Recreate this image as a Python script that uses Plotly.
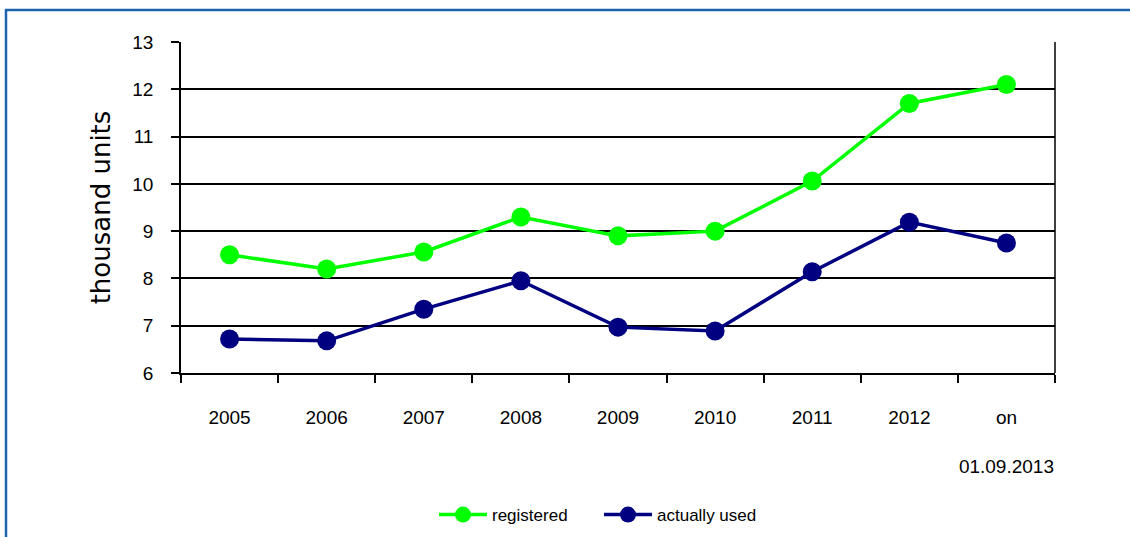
import plotly.graph_objects as go

# Periods on the horizontal axis
periods = ["2005", "2006", "2007", "2008", "2009", "2010", "2011", "2012", "on<br><br>01.09.2013"]

# Number of units, thousands
registered = [8.5, 8.2, 8.56, 9.3, 8.9, 9.0, 10.06, 11.7, 12.1]
actually_used = [6.72, 6.68, 7.35, 7.95, 6.97, 6.89, 8.14, 9.19, 8.75]

y_ticks = [6, 7, 8, 9, 10, 11, 12, 13]

tick_font = dict(family="Liberation Sans, Arial, sans-serif", size=19, color="#000000")

fig = go.Figure()
fig.add_trace(go.Scatter(
    x=periods, y=registered, name="registered", mode="lines+markers",
    line=dict(color="#00FF00", width=3.5),
    marker=dict(color="#00FF00", size=19, symbol="circle"),
))
fig.add_trace(go.Scatter(
    x=periods, y=actually_used, name="actually used", mode="lines+markers",
    line=dict(color="#000080", width=3.5),
    marker=dict(color="#000080", size=19, symbol="circle"),
))

W, H = 1130, 537
L, R, T, B = 181, 75, 42, 164
pw, ph = W - L - R, H - T - B

# Blue outer frame (top and left edges visible, others run off the page)
fig.add_shape(type="rect", xref="paper", yref="paper",
              x0=(6 - L) / pw, x1=(W + 10 - L) / pw,
              y0=(H - B - (H + 10)) / ph, y1=1 + (T - 10) / ph,
              line=dict(color="#1F63AE", width=2.5), fillcolor="rgba(0,0,0,0)",
              layer="below")

fig.update_layout(
    width=W, height=H,
    margin=dict(l=L, r=R, t=T, b=B, pad=0, autoexpand=False),
    paper_bgcolor="#FFFFFF", plot_bgcolor="#FFFFFF",
    showlegend=True,
    legend=dict(orientation="h", x=(434 - L) / pw, xanchor="left",
                y=-(515 - (H - B)) / ph, yanchor="middle",
                font=dict(family="Liberation Sans, Arial, sans-serif", size=17, color="#000000"),
                entrywidth=102, entrywidthmode="pixels", itemwidth=48,
                bgcolor="rgba(0,0,0,0)"),
    xaxis=dict(
        type="category", categoryorder="array", categoryarray=periods,
        tickson="boundaries", ticks="outside", ticklen=8, tickwidth=1.5, tickcolor="#000000",
        showline=True, linecolor="#000000", linewidth=1.5, mirror=False,
        showgrid=False, tickfont=tick_font, tickangle=0, ticklabelstandoff=26,
        range=[-0.5, len(periods) - 0.5],
    ),
    yaxis=dict(
        range=[6, 13], tickvals=y_ticks, ticktext=[str(v) for v in y_ticks],
        ticks="outside", ticklen=8, tickwidth=1.5, tickcolor="#000000",
        showline=True, linecolor="#000000", linewidth=1.5,
        showgrid=True, gridcolor="#000000", gridwidth=1.5,
        zeroline=False, tickfont=tick_font, ticklabelstandoff=14,
        title=dict(text="thousand units", standoff=14,
                   font=dict(family="DejaVu Sans, sans-serif", size=26, color="#000000")),
    ),
)

# Right edge of the plot area
fig.add_shape(type="line", xref="paper", yref="paper", x0=1, x1=1, y0=0, y1=1,
              line=dict(color="#000000", width=1.5))

fig.write_html("out.html")
